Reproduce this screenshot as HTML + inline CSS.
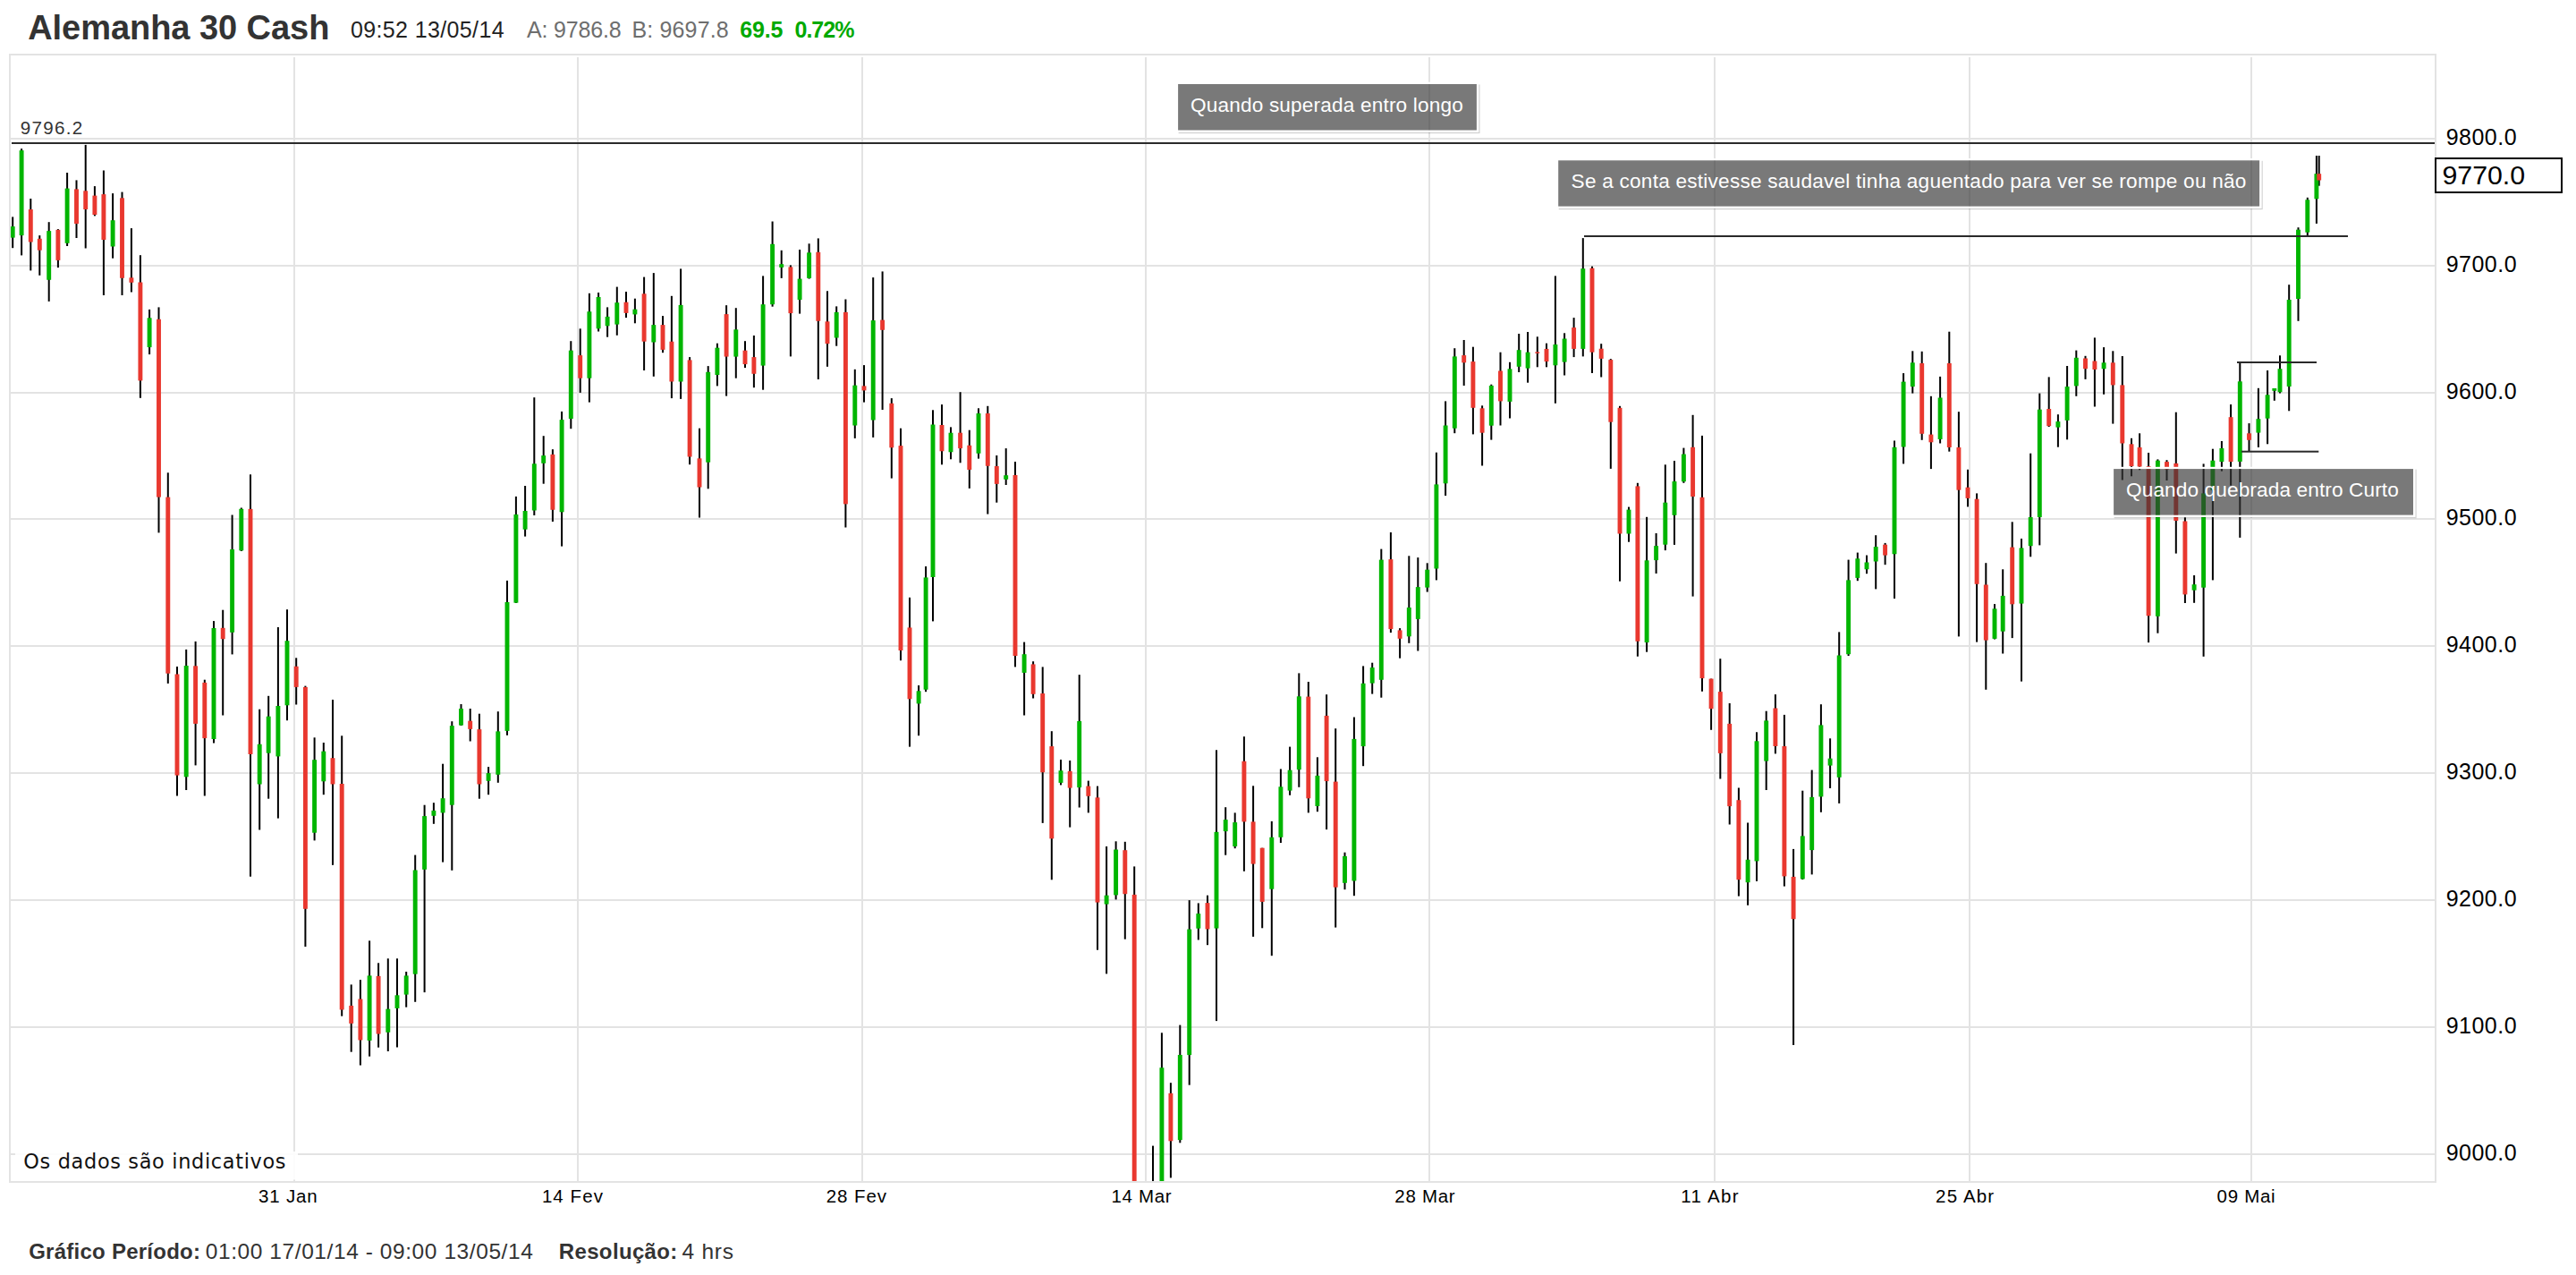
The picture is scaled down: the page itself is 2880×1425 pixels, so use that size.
<!DOCTYPE html>
<html><head><meta charset="utf-8"><title>Alemanha 30 Cash</title>
<style>html,body{margin:0;padding:0;background:#fff;}body{width:2880px;height:1425px;overflow:hidden;}svg{display:block;}text{font-family:'Liberation Sans', Arial, sans-serif;}</style>
</head><body>
<svg width="2880" height="1425" viewBox="0 0 2880 1425">
<rect x="0" y="0" width="2880" height="1425" fill="#fff"/>
<g fill="#e3e3e3">
<rect x="12" y="154.0" width="2710" height="2"/>
<rect x="12" y="296.0" width="2710" height="2"/>
<rect x="12" y="438.0" width="2710" height="2"/>
<rect x="12" y="579.0" width="2710" height="2"/>
<rect x="12" y="721.0" width="2710" height="2"/>
<rect x="12" y="863.0" width="2710" height="2"/>
<rect x="12" y="1005.0" width="2710" height="2"/>
<rect x="12" y="1147.0" width="2710" height="2"/>
<rect x="12" y="1289.0" width="2710" height="2"/>
<rect x="328.0" y="64" width="2" height="1256"/>
<rect x="645.0" y="64" width="2" height="1256"/>
<rect x="963.0" y="64" width="2" height="1256"/>
<rect x="1280.0" y="64" width="2" height="1256"/>
<rect x="1597.0" y="64" width="2" height="1256"/>
<rect x="1916.0" y="64" width="2" height="1256"/>
<rect x="2201.0" y="64" width="2" height="1256"/>
<rect x="2516.0" y="64" width="2" height="1256"/>
<rect x="10" y="60" width="2714" height="2"/>
<rect x="10" y="1320" width="2714" height="2"/>
<rect x="10" y="60" width="2" height="1262"/>
<rect x="2722" y="60" width="2" height="1262"/>
</g>
<defs><clipPath id="cp"><rect x="12" y="62" width="2710" height="1258"/></clipPath></defs>
<g clip-path="url(#cp)">
<g fill="#000">
<rect x="13.2" y="242.4" width="2" height="34.8"/>
<rect x="23.1" y="166.1" width="2" height="119.3"/>
<rect x="33.3" y="222.0" width="2" height="80.4"/>
<rect x="43.3" y="263.1" width="2" height="44.7"/>
<rect x="53.7" y="248.2" width="2" height="88.7"/>
<rect x="63.9" y="256.1" width="2" height="43.0"/>
<rect x="74.1" y="193.0" width="2" height="82.0"/>
<rect x="84.5" y="201.4" width="2" height="64.6"/>
<rect x="94.7" y="161.9" width="2" height="115.6"/>
<rect x="104.9" y="208.1" width="2" height="33.3"/>
<rect x="114.9" y="190.5" width="2" height="139.5"/>
<rect x="125.1" y="216.1" width="2" height="72.6"/>
<rect x="135.5" y="214.6" width="2" height="115.4"/>
<rect x="145.9" y="255.1" width="2" height="71.4"/>
<rect x="155.9" y="285.2" width="2" height="159.6"/>
<rect x="166.1" y="345.9" width="2" height="50.2"/>
<rect x="176.5" y="343.4" width="2" height="252.0"/>
<rect x="186.8" y="528.3" width="2" height="235.6"/>
<rect x="197.0" y="745.0" width="2" height="144.5"/>
<rect x="207.2" y="725.9" width="2" height="157.1"/>
<rect x="217.6" y="716.9" width="2" height="138.5"/>
<rect x="227.8" y="759.7" width="2" height="129.8"/>
<rect x="238.0" y="694.1" width="2" height="136.4"/>
<rect x="248.2" y="681.7" width="2" height="117.8"/>
<rect x="258.6" y="575.5" width="2" height="155.9"/>
<rect x="268.8" y="567.5" width="2" height="48.5"/>
<rect x="279.0" y="530.3" width="2" height="449.4"/>
<rect x="289.2" y="792.7" width="2" height="134.8"/>
<rect x="299.2" y="777.8" width="2" height="114.9"/>
<rect x="309.9" y="701.0" width="2" height="213.6"/>
<rect x="320.0" y="681.2" width="2" height="124.0"/>
<rect x="330.2" y="735.3" width="2" height="52.2"/>
<rect x="340.4" y="766.6" width="2" height="291.5"/>
<rect x="350.6" y="824.3" width="2" height="115.1"/>
<rect x="360.8" y="830.0" width="2" height="58.2"/>
<rect x="371.0" y="782.0" width="2" height="184.8"/>
<rect x="381.2" y="822.3" width="2" height="313.4"/>
<rect x="391.7" y="1100.4" width="2" height="75.3"/>
<rect x="401.9" y="1095.1" width="2" height="95.5"/>
<rect x="412.1" y="1051.4" width="2" height="129.3"/>
<rect x="422.1" y="1076.3" width="2" height="94.4"/>
<rect x="432.8" y="1071.3" width="2" height="103.7"/>
<rect x="443.0" y="1071.3" width="2" height="99.2"/>
<rect x="453.2" y="1086.0" width="2" height="39.7"/>
<rect x="463.2" y="955.6" width="2" height="164.2"/>
<rect x="473.6" y="899.7" width="2" height="209.4"/>
<rect x="483.9" y="897.2" width="2" height="23.6"/>
<rect x="494.1" y="853.7" width="2" height="109.9"/>
<rect x="504.3" y="806.2" width="2" height="166.6"/>
<rect x="514.5" y="787.0" width="2" height="24.0"/>
<rect x="524.7" y="792.0" width="2" height="36.5"/>
<rect x="534.9" y="797.7" width="2" height="95.0"/>
<rect x="545.1" y="857.1" width="2" height="31.1"/>
<rect x="555.8" y="795.2" width="2" height="79.6"/>
<rect x="566.0" y="648.9" width="2" height="172.9"/>
<rect x="575.9" y="554.9" width="2" height="119.1"/>
<rect x="586.1" y="543.0" width="2" height="56.6"/>
<rect x="596.3" y="444.2" width="2" height="131.8"/>
<rect x="606.7" y="487.2" width="2" height="53.5"/>
<rect x="616.9" y="502.2" width="2" height="80.8"/>
<rect x="627.1" y="459.9" width="2" height="150.7"/>
<rect x="637.3" y="381.2" width="2" height="98.0"/>
<rect x="647.7" y="367.3" width="2" height="71.6"/>
<rect x="657.9" y="327.8" width="2" height="121.8"/>
<rect x="668.1" y="327.0" width="2" height="43.5"/>
<rect x="678.1" y="343.4" width="2" height="33.3"/>
<rect x="688.8" y="320.6" width="2" height="54.2"/>
<rect x="699.0" y="326.0" width="2" height="29.1"/>
<rect x="708.9" y="333.7" width="2" height="27.6"/>
<rect x="719.1" y="309.6" width="2" height="104.4"/>
<rect x="729.8" y="305.1" width="2" height="115.7"/>
<rect x="740.0" y="353.1" width="2" height="41.1"/>
<rect x="749.9" y="330.8" width="2" height="114.3"/>
<rect x="760.1" y="300.4" width="2" height="145.5"/>
<rect x="770.1" y="399.1" width="2" height="120.1"/>
<rect x="781.0" y="478.7" width="2" height="99.8"/>
<rect x="790.7" y="409.1" width="2" height="137.2"/>
<rect x="800.9" y="383.7" width="2" height="47.7"/>
<rect x="811.1" y="341.2" width="2" height="101.4"/>
<rect x="821.8" y="344.2" width="2" height="78.5"/>
<rect x="832.0" y="381.2" width="2" height="29.9"/>
<rect x="841.9" y="375.0" width="2" height="58.2"/>
<rect x="852.1" y="308.4" width="2" height="127.3"/>
<rect x="862.6" y="247.5" width="2" height="95.2"/>
<rect x="872.7" y="279.8" width="2" height="31.1"/>
<rect x="882.9" y="296.4" width="2" height="102.0"/>
<rect x="893.1" y="279.0" width="2" height="71.6"/>
<rect x="903.6" y="272.3" width="2" height="39.3"/>
<rect x="913.8" y="266.4" width="2" height="157.6"/>
<rect x="924.0" y="325.3" width="2" height="84.5"/>
<rect x="934.2" y="342.4" width="2" height="44.3"/>
<rect x="944.4" y="334.5" width="2" height="255.0"/>
<rect x="954.8" y="412.8" width="2" height="77.1"/>
<rect x="965.0" y="408.1" width="2" height="41.5"/>
<rect x="975.2" y="310.1" width="2" height="178.8"/>
<rect x="985.6" y="303.4" width="2" height="154.6"/>
<rect x="995.8" y="445.1" width="2" height="89.5"/>
<rect x="1006.0" y="478.7" width="2" height="259.5"/>
<rect x="1016.0" y="667.8" width="2" height="166.8"/>
<rect x="1026.1" y="766.0" width="2" height="56.2"/>
<rect x="1034.1" y="633.0" width="2" height="140.2"/>
<rect x="1042.0" y="458.3" width="2" height="236.1"/>
<rect x="1052.0" y="452.1" width="2" height="67.2"/>
<rect x="1062.0" y="477.4" width="2" height="35.9"/>
<rect x="1072.6" y="438.2" width="2" height="79.1"/>
<rect x="1082.8" y="480.7" width="2" height="65.2"/>
<rect x="1093.0" y="456.3" width="2" height="56.3"/>
<rect x="1103.3" y="453.8" width="2" height="120.8"/>
<rect x="1113.3" y="509.0" width="2" height="52.7"/>
<rect x="1123.7" y="501.1" width="2" height="40.9"/>
<rect x="1134.0" y="516.0" width="2" height="229.4"/>
<rect x="1144.1" y="717.6" width="2" height="81.9"/>
<rect x="1154.1" y="739.2" width="2" height="41.3"/>
<rect x="1164.7" y="745.4" width="2" height="174.5"/>
<rect x="1174.8" y="817.2" width="2" height="166.1"/>
<rect x="1185.0" y="849.0" width="2" height="28.4"/>
<rect x="1195.2" y="850.0" width="2" height="74.6"/>
<rect x="1205.7" y="754.1" width="2" height="148.4"/>
<rect x="1215.8" y="872.6" width="2" height="35.8"/>
<rect x="1226.0" y="878.6" width="2" height="183.1"/>
<rect x="1236.1" y="946.0" width="2" height="142.4"/>
<rect x="1246.6" y="940.3" width="2" height="65.1"/>
<rect x="1256.8" y="940.8" width="2" height="108.9"/>
<rect x="1267.2" y="968.4" width="2" height="361.6"/>
<rect x="1288.0" y="1280.6" width="2" height="49.4"/>
<rect x="1297.9" y="1154.3" width="2" height="175.7"/>
<rect x="1307.9" y="1210.2" width="2" height="106.2"/>
<rect x="1318.3" y="1145.6" width="2" height="131.7"/>
<rect x="1328.7" y="1006.1" width="2" height="206.6"/>
<rect x="1338.8" y="1009.4" width="2" height="41.1"/>
<rect x="1349.0" y="1000.7" width="2" height="55.5"/>
<rect x="1359.0" y="838.3" width="2" height="302.8"/>
<rect x="1369.2" y="902.2" width="2" height="53.5"/>
<rect x="1379.7" y="908.4" width="2" height="39.8"/>
<rect x="1389.9" y="823.2" width="2" height="150.6"/>
<rect x="1400.1" y="878.3" width="2" height="168.6"/>
<rect x="1410.2" y="947.7" width="2" height="89.6"/>
<rect x="1420.8" y="917.9" width="2" height="150.3"/>
<rect x="1430.9" y="859.5" width="2" height="82.5"/>
<rect x="1441.1" y="834.6" width="2" height="54.2"/>
<rect x="1451.3" y="752.4" width="2" height="127.4"/>
<rect x="1461.8" y="762.0" width="2" height="146.4"/>
<rect x="1471.9" y="846.3" width="2" height="60.9"/>
<rect x="1482.1" y="776.2" width="2" height="150.9"/>
<rect x="1492.2" y="814.2" width="2" height="222.4"/>
<rect x="1502.5" y="952.7" width="2" height="41.5"/>
<rect x="1512.9" y="801.5" width="2" height="199.7"/>
<rect x="1523.1" y="744.4" width="2" height="111.8"/>
<rect x="1533.2" y="740.7" width="2" height="34.9"/>
<rect x="1543.3" y="613.6" width="2" height="166.1"/>
<rect x="1553.9" y="595.0" width="2" height="112.1"/>
<rect x="1564.1" y="702.1" width="2" height="33.6"/>
<rect x="1574.3" y="621.3" width="2" height="97.5"/>
<rect x="1584.3" y="623.1" width="2" height="104.4"/>
<rect x="1594.7" y="629.3" width="2" height="32.3"/>
<rect x="1604.9" y="505.7" width="2" height="142.7"/>
<rect x="1615.1" y="448.4" width="2" height="105.6"/>
<rect x="1625.3" y="389.2" width="2" height="95.0"/>
<rect x="1635.7" y="380.0" width="2" height="51.0"/>
<rect x="1645.9" y="387.7" width="2" height="97.7"/>
<rect x="1656.1" y="453.3" width="2" height="67.2"/>
<rect x="1666.3" y="429.7" width="2" height="61.9"/>
<rect x="1676.5" y="393.7" width="2" height="81.8"/>
<rect x="1687.0" y="404.8" width="2" height="62.7"/>
<rect x="1697.2" y="373.0" width="2" height="43.0"/>
<rect x="1707.1" y="371.0" width="2" height="56.7"/>
<rect x="1717.8" y="376.3" width="2" height="34.0"/>
<rect x="1728.0" y="383.7" width="2" height="26.6"/>
<rect x="1737.9" y="308.4" width="2" height="142.4"/>
<rect x="1748.1" y="372.3" width="2" height="47.2"/>
<rect x="1758.6" y="355.1" width="2" height="44.0"/>
<rect x="1768.8" y="266.1" width="2" height="132.3"/>
<rect x="1779.0" y="297.7" width="2" height="119.3"/>
<rect x="1789.2" y="384.2" width="2" height="37.3"/>
<rect x="1799.8" y="401.1" width="2" height="122.8"/>
<rect x="1810.0" y="453.8" width="2" height="195.9"/>
<rect x="1820.0" y="566.6" width="2" height="39.1"/>
<rect x="1829.9" y="539.8" width="2" height="193.9"/>
<rect x="1840.1" y="577.8" width="2" height="150.9"/>
<rect x="1850.6" y="596.0" width="2" height="45.0"/>
<rect x="1860.8" y="519.3" width="2" height="95.8"/>
<rect x="1871.0" y="515.0" width="2" height="93.9"/>
<rect x="1881.4" y="500.6" width="2" height="39.2"/>
<rect x="1891.6" y="463.8" width="2" height="202.8"/>
<rect x="1902.0" y="486.9" width="2" height="285.9"/>
<rect x="1912.1" y="758.6" width="2" height="57.2"/>
<rect x="1922.3" y="736.2" width="2" height="134.3"/>
<rect x="1932.7" y="786.0" width="2" height="135.5"/>
<rect x="1942.9" y="880.5" width="2" height="121.1"/>
<rect x="1953.1" y="919.5" width="2" height="92.3"/>
<rect x="1963.0" y="818.3" width="2" height="166.6"/>
<rect x="1973.7" y="794.7" width="2" height="88.3"/>
<rect x="1983.9" y="776.1" width="2" height="66.3"/>
<rect x="1993.9" y="798.9" width="2" height="191.7"/>
<rect x="2004.1" y="948.9" width="2" height="219.1"/>
<rect x="2014.3" y="883.7" width="2" height="99.3"/>
<rect x="2024.7" y="860.6" width="2" height="116.8"/>
<rect x="2034.9" y="787.2" width="2" height="120.6"/>
<rect x="2045.1" y="825.3" width="2" height="55.7"/>
<rect x="2055.2" y="706.4" width="2" height="191.5"/>
<rect x="2065.6" y="625.6" width="2" height="107.4"/>
<rect x="2075.8" y="617.6" width="2" height="31.6"/>
<rect x="2086.0" y="620.6" width="2" height="20.6"/>
<rect x="2096.2" y="598.2" width="2" height="60.2"/>
<rect x="2106.6" y="606.9" width="2" height="24.3"/>
<rect x="2117.0" y="492.5" width="2" height="176.5"/>
<rect x="2127.1" y="417.1" width="2" height="101.3"/>
<rect x="2137.3" y="392.3" width="2" height="47.3"/>
<rect x="2147.7" y="392.8" width="2" height="99.0"/>
<rect x="2157.9" y="442.8" width="2" height="81.3"/>
<rect x="2168.1" y="420.9" width="2" height="74.6"/>
<rect x="2178.3" y="370.7" width="2" height="134.0"/>
<rect x="2188.9" y="460.2" width="2" height="251.2"/>
<rect x="2199.0" y="524.8" width="2" height="41.6"/>
<rect x="2209.1" y="551.4" width="2" height="166.2"/>
<rect x="2219.3" y="629.2" width="2" height="141.6"/>
<rect x="2229.0" y="675.1" width="2" height="39.4"/>
<rect x="2238.2" y="636.3" width="2" height="94.2"/>
<rect x="2248.7" y="583.3" width="2" height="129.8"/>
<rect x="2259.0" y="602.0" width="2" height="159.6"/>
<rect x="2269.2" y="506.7" width="2" height="115.6"/>
<rect x="2279.3" y="439.6" width="2" height="169.8"/>
<rect x="2289.7" y="421.4" width="2" height="55.6"/>
<rect x="2299.9" y="463.2" width="2" height="36.5"/>
<rect x="2310.1" y="409.0" width="2" height="82.3"/>
<rect x="2320.3" y="391.6" width="2" height="51.2"/>
<rect x="2330.5" y="397.8" width="2" height="26.1"/>
<rect x="2340.9" y="377.4" width="2" height="77.1"/>
<rect x="2351.1" y="388.1" width="2" height="52.7"/>
<rect x="2361.3" y="392.3" width="2" height="81.3"/>
<rect x="2371.8" y="398.0" width="2" height="138.5"/>
<rect x="2382.0" y="489.8" width="2" height="42.5"/>
<rect x="2391.1" y="484.3" width="2" height="41.0"/>
<rect x="2401.1" y="506.0" width="2" height="212.1"/>
<rect x="2411.4" y="513.4" width="2" height="194.3"/>
<rect x="2421.5" y="514.2" width="2" height="22.8"/>
<rect x="2431.8" y="460.7" width="2" height="157.9"/>
<rect x="2441.9" y="578.3" width="2" height="95.7"/>
<rect x="2452.1" y="643.0" width="2" height="30.8"/>
<rect x="2462.6" y="518.4" width="2" height="215.4"/>
<rect x="2472.9" y="501.7" width="2" height="146.7"/>
<rect x="2482.9" y="493.0" width="2" height="33.6"/>
<rect x="2493.1" y="452.0" width="2" height="90.7"/>
<rect x="2503.3" y="405.0" width="2" height="195.9"/>
<rect x="2513.5" y="473.1" width="2" height="31.1"/>
<rect x="2523.9" y="433.8" width="2" height="66.2"/>
<rect x="2534.1" y="414.0" width="2" height="82.3"/>
<rect x="2541.8" y="434.0" width="2" height="13.8"/>
<rect x="2548.0" y="397.3" width="2" height="42.2"/>
<rect x="2558.2" y="318.2" width="2" height="141.1"/>
<rect x="2568.5" y="254.2" width="2" height="104.6"/>
<rect x="2578.8" y="220.8" width="2" height="42.2"/>
<rect x="2588.9" y="174.0" width="2" height="75.9"/>
<rect x="2591.7" y="174.0" width="2" height="33.7"/>
</g>
<g fill="#00b500">
<rect x="11.75" y="253.1" width="4.9" height="12.5"/>
<rect x="21.65" y="168.1" width="4.9" height="95.0"/>
<rect x="52.25" y="258.1" width="4.9" height="54.7"/>
<rect x="72.65" y="210.6" width="4.9" height="61.2"/>
<rect x="123.65" y="246.2" width="4.9" height="29.3"/>
<rect x="164.65" y="355.3" width="4.9" height="32.8"/>
<rect x="205.75" y="744.0" width="4.9" height="124.3"/>
<rect x="236.55" y="702.0" width="4.9" height="124.0"/>
<rect x="257.15" y="614.0" width="4.9" height="92.8"/>
<rect x="267.35" y="568.8" width="4.9" height="46.5"/>
<rect x="287.75" y="831.8" width="4.9" height="44.7"/>
<rect x="297.75" y="800.7" width="4.9" height="41.0"/>
<rect x="308.45" y="789.0" width="4.9" height="56.4"/>
<rect x="318.55" y="716.2" width="4.9" height="72.1"/>
<rect x="349.15" y="849.2" width="4.9" height="81.5"/>
<rect x="359.35" y="839.7" width="4.9" height="33.6"/>
<rect x="410.65" y="1090.4" width="4.9" height="72.6"/>
<rect x="431.35" y="1127.7" width="4.9" height="26.1"/>
<rect x="441.55" y="1112.3" width="4.9" height="14.7"/>
<rect x="451.75" y="1090.4" width="4.9" height="21.2"/>
<rect x="461.75" y="972.5" width="4.9" height="116.2"/>
<rect x="472.15" y="912.1" width="4.9" height="59.7"/>
<rect x="482.45" y="905.9" width="4.9" height="5.9"/>
<rect x="492.65" y="892.2" width="4.9" height="16.2"/>
<rect x="502.85" y="811.1" width="4.9" height="88.6"/>
<rect x="513.05" y="792.0" width="4.9" height="18.6"/>
<rect x="543.65" y="864.1" width="4.9" height="8.7"/>
<rect x="554.35" y="817.4" width="4.9" height="48.4"/>
<rect x="564.55" y="673.0" width="4.9" height="143.9"/>
<rect x="574.45" y="575.0" width="4.9" height="98.7"/>
<rect x="584.65" y="571.0" width="4.9" height="20.7"/>
<rect x="594.85" y="518.3" width="4.9" height="52.2"/>
<rect x="605.25" y="509.1" width="4.9" height="8.7"/>
<rect x="625.65" y="469.1" width="4.9" height="103.2"/>
<rect x="635.85" y="391.7" width="4.9" height="76.3"/>
<rect x="656.45" y="348.2" width="4.9" height="74.5"/>
<rect x="666.65" y="332.0" width="4.9" height="35.3"/>
<rect x="676.65" y="353.9" width="4.9" height="10.4"/>
<rect x="687.35" y="338.2" width="4.9" height="24.4"/>
<rect x="707.45" y="345.7" width="4.9" height="5.7"/>
<rect x="728.35" y="363.1" width="4.9" height="19.4"/>
<rect x="758.65" y="340.9" width="4.9" height="85.6"/>
<rect x="789.25" y="415.8" width="4.9" height="100.9"/>
<rect x="799.45" y="388.7" width="4.9" height="30.3"/>
<rect x="820.35" y="368.3" width="4.9" height="30.3"/>
<rect x="850.65" y="340.2" width="4.9" height="68.4"/>
<rect x="861.15" y="272.8" width="4.9" height="67.4"/>
<rect x="871.25" y="295.2" width="4.9" height="3.7"/>
<rect x="891.65" y="311.6" width="4.9" height="23.4"/>
<rect x="902.15" y="282.3" width="4.9" height="28.6"/>
<rect x="932.75" y="348.9" width="4.9" height="28.6"/>
<rect x="953.35" y="430.7" width="4.9" height="44.8"/>
<rect x="973.75" y="358.1" width="4.9" height="111.4"/>
<rect x="1024.65" y="772.3" width="4.9" height="14.1"/>
<rect x="1032.65" y="645.4" width="4.9" height="125.3"/>
<rect x="1040.55" y="474.5" width="4.9" height="170.5"/>
<rect x="1060.55" y="483.7" width="4.9" height="21.6"/>
<rect x="1091.55" y="462.0" width="4.9" height="44.8"/>
<rect x="1122.25" y="531.2" width="4.9" height="4.6"/>
<rect x="1142.65" y="731.2" width="4.9" height="20.7"/>
<rect x="1183.55" y="861.2" width="4.9" height="13.7"/>
<rect x="1204.25" y="806.0" width="4.9" height="74.1"/>
<rect x="1234.65" y="1000.7" width="4.9" height="9.9"/>
<rect x="1245.15" y="949.5" width="4.9" height="50.9"/>
<rect x="1286.55" y="1329.0" width="4.9" height="1.5"/>
<rect x="1296.45" y="1193.3" width="4.9" height="136.7"/>
<rect x="1316.85" y="1179.0" width="4.9" height="95.1"/>
<rect x="1327.25" y="1038.6" width="4.9" height="140.5"/>
<rect x="1337.35" y="1021.1" width="4.9" height="16.6"/>
<rect x="1357.55" y="929.8" width="4.9" height="107.8"/>
<rect x="1367.75" y="916.1" width="4.9" height="13.0"/>
<rect x="1378.25" y="919.1" width="4.9" height="26.9"/>
<rect x="1419.35" y="935.8" width="4.9" height="57.9"/>
<rect x="1429.45" y="879.3" width="4.9" height="56.5"/>
<rect x="1439.65" y="860.7" width="4.9" height="22.9"/>
<rect x="1449.85" y="778.3" width="4.9" height="81.9"/>
<rect x="1470.45" y="866.9" width="4.9" height="34.1"/>
<rect x="1501.05" y="956.9" width="4.9" height="29.9"/>
<rect x="1511.45" y="825.9" width="4.9" height="158.6"/>
<rect x="1521.65" y="763.8" width="4.9" height="70.3"/>
<rect x="1531.75" y="746.1" width="4.9" height="17.5"/>
<rect x="1541.85" y="625.6" width="4.9" height="134.2"/>
<rect x="1572.85" y="679.0" width="4.9" height="32.3"/>
<rect x="1582.85" y="656.1" width="4.9" height="35.8"/>
<rect x="1593.25" y="636.7" width="4.9" height="19.9"/>
<rect x="1603.45" y="541.4" width="4.9" height="94.1"/>
<rect x="1613.65" y="475.5" width="4.9" height="64.8"/>
<rect x="1623.85" y="398.4" width="4.9" height="80.3"/>
<rect x="1664.85" y="431.0" width="4.9" height="44.7"/>
<rect x="1685.55" y="412.3" width="4.9" height="36.6"/>
<rect x="1695.75" y="391.2" width="4.9" height="18.6"/>
<rect x="1705.65" y="393.7" width="4.9" height="17.9"/>
<rect x="1736.45" y="385.0" width="4.9" height="23.3"/>
<rect x="1746.65" y="378.5" width="4.9" height="26.1"/>
<rect x="1767.35" y="300.2" width="4.9" height="89.7"/>
<rect x="1818.55" y="569.6" width="4.9" height="26.9"/>
<rect x="1838.65" y="626.3" width="4.9" height="91.7"/>
<rect x="1849.15" y="610.1" width="4.9" height="16.0"/>
<rect x="1859.35" y="561.7" width="4.9" height="47.0"/>
<rect x="1869.55" y="538.0" width="4.9" height="37.8"/>
<rect x="1879.95" y="507.6" width="4.9" height="30.6"/>
<rect x="1951.65" y="960.8" width="4.9" height="25.4"/>
<rect x="1961.55" y="828.3" width="4.9" height="134.2"/>
<rect x="1972.25" y="805.4" width="4.9" height="45.2"/>
<rect x="2012.85" y="934.4" width="4.9" height="48.0"/>
<rect x="2023.25" y="890.9" width="4.9" height="59.2"/>
<rect x="2033.45" y="810.4" width="4.9" height="80.0"/>
<rect x="2043.65" y="847.7" width="4.9" height="7.9"/>
<rect x="2053.75" y="732.5" width="4.9" height="136.3"/>
<rect x="2064.15" y="648.4" width="4.9" height="82.8"/>
<rect x="2074.35" y="624.3" width="4.9" height="21.6"/>
<rect x="2084.55" y="628.5" width="4.9" height="7.8"/>
<rect x="2094.75" y="611.1" width="4.9" height="16.4"/>
<rect x="2115.55" y="499.8" width="4.9" height="119.5"/>
<rect x="2125.65" y="426.6" width="4.9" height="72.9"/>
<rect x="2135.85" y="405.3" width="4.9" height="26.8"/>
<rect x="2166.65" y="444.5" width="4.9" height="46.5"/>
<rect x="2227.55" y="680.3" width="4.9" height="33.6"/>
<rect x="2236.75" y="665.9" width="4.9" height="39.8"/>
<rect x="2257.55" y="612.4" width="4.9" height="62.2"/>
<rect x="2267.75" y="578.0" width="4.9" height="32.2"/>
<rect x="2277.85" y="457.7" width="4.9" height="120.3"/>
<rect x="2298.45" y="471.1" width="4.9" height="6.5"/>
<rect x="2308.65" y="432.1" width="4.9" height="37.8"/>
<rect x="2318.85" y="399.8" width="4.9" height="31.6"/>
<rect x="2349.65" y="405.3" width="4.9" height="6.9"/>
<rect x="2409.95" y="514.7" width="4.9" height="174.1"/>
<rect x="2450.65" y="653.2" width="4.9" height="6.5"/>
<rect x="2461.15" y="551.4" width="4.9" height="105.3"/>
<rect x="2471.45" y="514.7" width="4.9" height="33.3"/>
<rect x="2481.45" y="501.0" width="4.9" height="15.1"/>
<rect x="2501.85" y="426.3" width="4.9" height="89.6"/>
<rect x="2522.45" y="468.2" width="4.9" height="15.4"/>
<rect x="2532.65" y="441.3" width="4.9" height="26.4"/>
<rect x="2540.35" y="434.0" width="4.9" height="2.8"/>
<rect x="2546.55" y="412.2" width="4.9" height="26.1"/>
<rect x="2556.75" y="335.0" width="4.9" height="97.0"/>
<rect x="2567.05" y="256.7" width="4.9" height="77.3"/>
<rect x="2577.35" y="223.3" width="4.9" height="36.4"/>
<rect x="2587.45" y="194.2" width="4.9" height="28.1"/>
</g>
<g fill="#e9382f">
<rect x="31.85" y="234.0" width="4.9" height="36.5"/>
<rect x="41.85" y="266.8" width="4.9" height="12.9"/>
<rect x="62.45" y="256.9" width="4.9" height="34.0"/>
<rect x="83.05" y="211.4" width="4.9" height="38.7"/>
<rect x="93.25" y="213.3" width="4.9" height="20.7"/>
<rect x="103.45" y="218.6" width="4.9" height="21.4"/>
<rect x="113.45" y="217.1" width="4.9" height="50.9"/>
<rect x="134.05" y="221.3" width="4.9" height="89.5"/>
<rect x="144.45" y="310.3" width="4.9" height="5.5"/>
<rect x="154.45" y="315.5" width="4.9" height="109.9"/>
<rect x="175.05" y="356.8" width="4.9" height="198.8"/>
<rect x="185.35" y="555.6" width="4.9" height="197.1"/>
<rect x="195.55" y="753.5" width="4.9" height="113.1"/>
<rect x="216.15" y="744.3" width="4.9" height="64.6"/>
<rect x="226.35" y="762.9" width="4.9" height="62.2"/>
<rect x="246.75" y="701.8" width="4.9" height="12.4"/>
<rect x="277.55" y="568.8" width="4.9" height="274.2"/>
<rect x="328.75" y="744.8" width="4.9" height="23.1"/>
<rect x="338.95" y="767.9" width="4.9" height="247.9"/>
<rect x="369.55" y="847.2" width="4.9" height="29.3"/>
<rect x="379.75" y="876.0" width="4.9" height="252.5"/>
<rect x="390.25" y="1124.0" width="4.9" height="19.9"/>
<rect x="400.45" y="1116.5" width="4.9" height="46.0"/>
<rect x="420.65" y="1090.9" width="4.9" height="64.7"/>
<rect x="523.25" y="805.7" width="4.9" height="9.2"/>
<rect x="533.45" y="815.1" width="4.9" height="61.4"/>
<rect x="615.45" y="507.9" width="4.9" height="61.9"/>
<rect x="646.25" y="397.1" width="4.9" height="25.6"/>
<rect x="697.55" y="337.7" width="4.9" height="12.2"/>
<rect x="717.65" y="328.3" width="4.9" height="53.4"/>
<rect x="738.55" y="363.1" width="4.9" height="27.8"/>
<rect x="748.45" y="381.7" width="4.9" height="44.8"/>
<rect x="768.65" y="402.4" width="4.9" height="108.1"/>
<rect x="779.55" y="512.3" width="4.9" height="32.3"/>
<rect x="809.65" y="351.1" width="4.9" height="47.5"/>
<rect x="830.55" y="391.7" width="4.9" height="15.4"/>
<rect x="840.45" y="399.1" width="4.9" height="18.7"/>
<rect x="881.45" y="298.4" width="4.9" height="51.7"/>
<rect x="912.35" y="281.8" width="4.9" height="77.0"/>
<rect x="922.55" y="359.3" width="4.9" height="24.9"/>
<rect x="942.95" y="348.9" width="4.9" height="214.5"/>
<rect x="963.55" y="431.4" width="4.9" height="5.0"/>
<rect x="984.15" y="357.6" width="4.9" height="11.2"/>
<rect x="994.35" y="450.8" width="4.9" height="49.5"/>
<rect x="1004.55" y="498.1" width="4.9" height="228.9"/>
<rect x="1014.55" y="701.4" width="4.9" height="79.9"/>
<rect x="1050.55" y="475.0" width="4.9" height="29.3"/>
<rect x="1071.15" y="483.7" width="4.9" height="17.4"/>
<rect x="1081.35" y="497.8" width="4.9" height="27.2"/>
<rect x="1101.85" y="462.0" width="4.9" height="58.8"/>
<rect x="1111.85" y="521.0" width="4.9" height="19.9"/>
<rect x="1132.55" y="531.0" width="4.9" height="202.0"/>
<rect x="1152.65" y="742.4" width="4.9" height="33.4"/>
<rect x="1163.25" y="775.0" width="4.9" height="88.2"/>
<rect x="1173.35" y="834.1" width="4.9" height="103.2"/>
<rect x="1193.75" y="861.9" width="4.9" height="18.7"/>
<rect x="1214.35" y="878.6" width="4.9" height="11.2"/>
<rect x="1224.55" y="891.3" width="4.9" height="117.3"/>
<rect x="1255.35" y="950.2" width="4.9" height="49.0"/>
<rect x="1265.75" y="999.9" width="4.9" height="330.1"/>
<rect x="1306.45" y="1221.9" width="4.9" height="53.4"/>
<rect x="1347.55" y="1009.1" width="4.9" height="29.4"/>
<rect x="1388.45" y="850.8" width="4.9" height="67.6"/>
<rect x="1398.65" y="918.4" width="4.9" height="47.2"/>
<rect x="1408.75" y="947.7" width="4.9" height="60.2"/>
<rect x="1460.35" y="778.6" width="4.9" height="113.7"/>
<rect x="1480.65" y="799.9" width="4.9" height="73.2"/>
<rect x="1490.75" y="873.6" width="4.9" height="118.1"/>
<rect x="1552.45" y="625.1" width="4.9" height="78.0"/>
<rect x="1562.65" y="704.4" width="4.9" height="9.4"/>
<rect x="1634.25" y="397.1" width="4.9" height="8.2"/>
<rect x="1644.45" y="404.1" width="4.9" height="51.7"/>
<rect x="1654.65" y="456.3" width="4.9" height="27.4"/>
<rect x="1675.05" y="414.5" width="4.9" height="33.9"/>
<rect x="1716.35" y="393.4" width="4.9" height="1.5"/>
<rect x="1726.55" y="389.9" width="4.9" height="14.2"/>
<rect x="1757.15" y="366.1" width="4.9" height="23.8"/>
<rect x="1777.55" y="299.7" width="4.9" height="94.0"/>
<rect x="1787.75" y="389.7" width="4.9" height="11.2"/>
<rect x="1798.35" y="402.1" width="4.9" height="69.6"/>
<rect x="1808.55" y="455.8" width="4.9" height="140.7"/>
<rect x="1828.45" y="543.4" width="4.9" height="173.4"/>
<rect x="1890.15" y="499.8" width="4.9" height="55.2"/>
<rect x="1900.55" y="555.8" width="4.9" height="202.3"/>
<rect x="1910.65" y="758.6" width="4.9" height="33.6"/>
<rect x="1920.85" y="773.1" width="4.9" height="68.8"/>
<rect x="1931.25" y="808.9" width="4.9" height="92.2"/>
<rect x="1941.45" y="894.2" width="4.9" height="89.0"/>
<rect x="1982.45" y="791.5" width="4.9" height="42.5"/>
<rect x="1992.45" y="834.0" width="4.9" height="145.4"/>
<rect x="2002.65" y="979.9" width="4.9" height="47.3"/>
<rect x="2105.15" y="608.7" width="4.9" height="11.9"/>
<rect x="2146.25" y="406.0" width="4.9" height="78.8"/>
<rect x="2156.45" y="485.6" width="4.9" height="8.7"/>
<rect x="2176.85" y="406.0" width="4.9" height="94.0"/>
<rect x="2187.45" y="500.0" width="4.9" height="47.7"/>
<rect x="2197.55" y="544.7" width="4.9" height="12.2"/>
<rect x="2207.65" y="557.7" width="4.9" height="95.1"/>
<rect x="2217.85" y="653.5" width="4.9" height="62.1"/>
<rect x="2247.25" y="611.6" width="4.9" height="63.7"/>
<rect x="2288.25" y="457.0" width="4.9" height="19.1"/>
<rect x="2329.05" y="400.5" width="4.9" height="11.7"/>
<rect x="2339.45" y="403.5" width="4.9" height="9.5"/>
<rect x="2359.85" y="405.3" width="4.9" height="25.1"/>
<rect x="2370.35" y="430.4" width="4.9" height="65.1"/>
<rect x="2380.55" y="496.3" width="4.9" height="24.8"/>
<rect x="2389.65" y="500.0" width="4.9" height="21.6"/>
<rect x="2399.65" y="521.1" width="4.9" height="167.2"/>
<rect x="2420.05" y="516.1" width="4.9" height="8.5"/>
<rect x="2430.35" y="517.9" width="4.9" height="64.1"/>
<rect x="2440.45" y="582.5" width="4.9" height="81.9"/>
<rect x="2491.65" y="466.2" width="4.9" height="49.9"/>
<rect x="2512.05" y="484.3" width="4.9" height="7.5"/>
<rect x="2590.25" y="194.2" width="4.9" height="7.3"/>
</g>
</g>
<g fill="#2a2a2a">
<rect x="13" y="159" width="2709" height="2"/>
<rect x="1771" y="263" width="854" height="2"/>
<rect x="2501" y="404" width="89" height="2"/>
<rect x="2506" y="503.7" width="86.3" height="2"/>
</g>
<rect x="1653.2" y="94.5" width="1.3" height="54.6" fill="#000" opacity="0.19"/>
<rect x="1317.6" y="147.8" width="335.6" height="1.3" fill="#000" opacity="0.19"/>
<rect x="1315.95" y="92.85" width="336.10" height="53.80" fill="none" stroke="#fff" stroke-width="2.3"/>
<rect x="1317.1" y="94.0" width="333.8" height="51.5" fill="#363636" fill-opacity="0.667"/>
<text x="1331.0" y="125.3" font-size="22.6" fill="#fff" textLength="304.8" lengthAdjust="spacing">Quando superada entro longo</text>
<rect x="2528.4" y="179.8" width="1.3" height="54.4" fill="#000" opacity="0.19"/>
<rect x="1742.7" y="232.9" width="785.7" height="1.3" fill="#000" opacity="0.19"/>
<rect x="1741.05" y="178.15" width="786.20" height="53.60" fill="none" stroke="#fff" stroke-width="2.3"/>
<rect x="1742.2" y="179.3" width="783.9" height="51.3" fill="#363636" fill-opacity="0.667"/>
<text x="1756.6" y="210.3" font-size="22.6" fill="#fff" textLength="754.8" lengthAdjust="spacing">Se a conta estivesse saudavel tinha aguentado para ver se rompe ou não</text>
<rect x="2700.3" y="524.6" width="1.3" height="54.6" fill="#000" opacity="0.19"/>
<rect x="2363.6" y="577.9" width="336.7" height="1.3" fill="#000" opacity="0.19"/>
<rect x="2361.95" y="522.95" width="337.20" height="53.80" fill="none" stroke="#fff" stroke-width="2.3"/>
<rect x="2363.1" y="524.1" width="334.9" height="51.5" fill="#363636" fill-opacity="0.667"/>
<text x="2377.0" y="555.3" font-size="22.6" fill="#fff" textLength="304.8" lengthAdjust="spacing">Quando quebrada entro Curto</text>
<text x="22.7" y="149.9" font-size="20.6" fill="#333" textLength="69.4" lengthAdjust="spacing">9796.2</text>
<text x="2734.7" y="161.9" font-size="25" fill="#000" textLength="78.9" lengthAdjust="spacing">9800.0</text>
<text x="2734.7" y="303.9" font-size="25" fill="#000" textLength="78.9" lengthAdjust="spacing">9700.0</text>
<text x="2734.7" y="445.9" font-size="25" fill="#000" textLength="78.9" lengthAdjust="spacing">9600.0</text>
<text x="2734.7" y="586.9" font-size="25" fill="#000" textLength="78.9" lengthAdjust="spacing">9500.0</text>
<text x="2734.7" y="728.9" font-size="25" fill="#000" textLength="78.9" lengthAdjust="spacing">9400.0</text>
<text x="2734.7" y="870.9" font-size="25" fill="#000" textLength="78.9" lengthAdjust="spacing">9300.0</text>
<text x="2734.7" y="1012.9" font-size="25" fill="#000" textLength="78.9" lengthAdjust="spacing">9200.0</text>
<text x="2734.7" y="1154.9" font-size="25" fill="#000" textLength="78.9" lengthAdjust="spacing">9100.0</text>
<text x="2734.7" y="1296.9" font-size="25" fill="#000" textLength="78.9" lengthAdjust="spacing">9000.0</text>
<rect x="2723" y="177" width="141" height="38" fill="#fff" stroke="#000" stroke-width="2"/>
<text x="2730.5" y="206" font-size="30.3" fill="#000" textLength="92.6" lengthAdjust="spacing">9770.0</text>
<text x="289.1" y="1344" font-size="20.5" fill="#000" textLength="65.5" lengthAdjust="spacing">31 Jan</text>
<text x="605.9" y="1344" font-size="20.5" fill="#000" textLength="68.0" lengthAdjust="spacing">14 Fev</text>
<text x="923.7" y="1344" font-size="20.5" fill="#000" textLength="67.3" lengthAdjust="spacing">28 Fev</text>
<text x="1242.4" y="1344" font-size="20.5" fill="#000" textLength="67.2" lengthAdjust="spacing">14 Mar</text>
<text x="1559.3" y="1344" font-size="20.5" fill="#000" textLength="67.4" lengthAdjust="spacing">28 Mar</text>
<text x="1879.2" y="1344" font-size="20.5" fill="#000" textLength="64.3" lengthAdjust="spacing">11 Abr</text>
<text x="2164.1" y="1344" font-size="20.5" fill="#000" textLength="65.1" lengthAdjust="spacing">25 Abr</text>
<text x="2478.6" y="1344" font-size="20.5" fill="#000" textLength="65.0" lengthAdjust="spacing">09 Mai</text>
<rect x="17" y="1287" width="316" height="31.5" fill="#fff" fill-opacity="0.88"/>
<text x="26.3" y="1305.9" font-size="22.4" fill="#111" style="font-family:'DejaVu Sans',Verdana,sans-serif" textLength="293.2" lengthAdjust="spacing">Os dados são indicativos</text>
<text x="31.2" y="44" font-size="38" font-weight="bold" fill="#333" textLength="337.2" lengthAdjust="spacing">Alemanha 30 Cash</text>
<text x="391.9" y="41.8" font-size="25" fill="#222" textLength="171.7" lengthAdjust="spacing">09:52 13/05/14</text>
<text x="589.1" y="41.8" font-size="25" fill="#6e6e6e" textLength="105.5" lengthAdjust="spacing">A: 9786.8</text>
<text x="706.5" y="41.8" font-size="25" fill="#6e6e6e" textLength="108.2" lengthAdjust="spacing">B: 9697.8</text>
<text x="827.3" y="41.8" font-size="25" font-weight="bold" fill="#00a900" textLength="48" lengthAdjust="spacing">69.5</text>
<text x="888.5" y="41.8" font-size="25" font-weight="bold" fill="#00a900" textLength="66.9" lengthAdjust="spacing">0.72%</text>
<text x="32.2" y="1407.3" font-size="24" font-weight="bold" fill="#333" textLength="191.8" lengthAdjust="spacing">Gráfico Período:</text>
<text x="229.8" y="1407.3" font-size="24.5" fill="#333" textLength="366" lengthAdjust="spacing">01:00 17/01/14 - 09:00 13/05/14</text>
<text x="624.8" y="1407.3" font-size="24" font-weight="bold" fill="#333" textLength="132.5" lengthAdjust="spacing">Resolução:</text>
<text x="762.6" y="1407.3" font-size="24.5" fill="#333" textLength="57.3" lengthAdjust="spacing">4 hrs</text>
</svg>
</body></html>
